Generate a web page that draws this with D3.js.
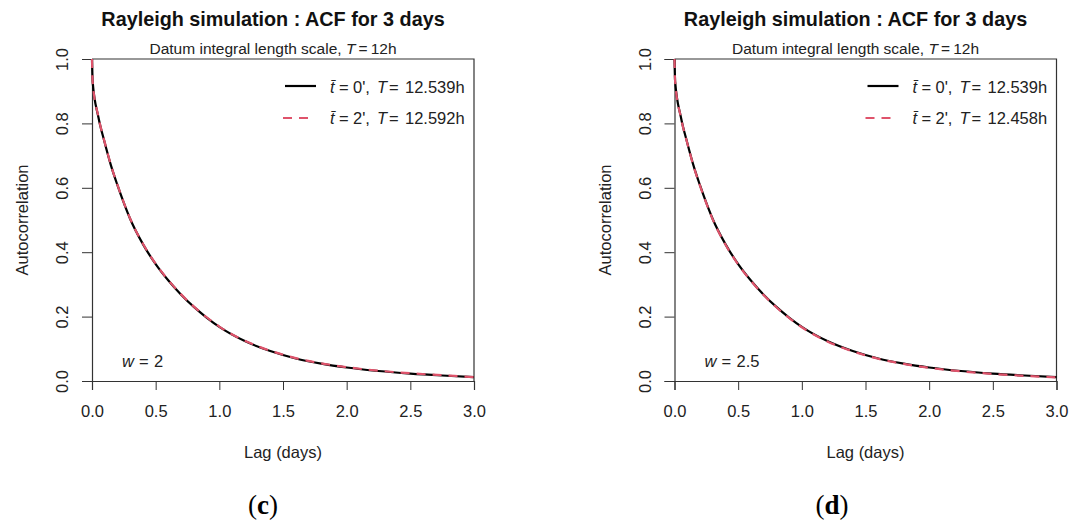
<!DOCTYPE html>
<html>
<head>
<meta charset="utf-8">
<script src="https://cdn.jsdelivr.net/npm/d3@7"></script>
<style>
  body { margin: 0; background: #fff; }
  svg { display: block; font-family: "Liberation Sans", Arial, sans-serif; }
  .axis path, .axis line { stroke: #333; }
  .axis text { font-family: "Liberation Sans", Arial, sans-serif; font-size: 16.5px; fill: #222; }
</style>
</head>
<body>
<svg id="chart" width="1082" height="528"></svg>
<script>
// lag in days and ACF values
const lags = [0, 0.005, 0.05, 0.1, 0.15, 0.2, 0.25, 0.3, 0.4, 0.5, 0.6, 0.7, 0.8, 0.9, 1.0,
              1.2, 1.4, 1.6, 1.8, 2.0, 2.25, 2.5, 2.75, 3.0];
const acfT0 = [1.0, 0.93, 0.82, 0.74, 0.668, 0.608, 0.553, 0.503, 0.425, 0.363, 0.312, 0.268, 0.23, 0.197, 0.168,
               0.124, 0.093, 0.07, 0.054, 0.042, 0.031, 0.023, 0.017, 0.012];
const acfC2 = [1.0, 0.93, 0.821, 0.741, 0.669, 0.609, 0.554, 0.504, 0.426, 0.364, 0.313, 0.269, 0.231, 0.198, 0.169,
               0.125, 0.094, 0.071, 0.055, 0.043, 0.032, 0.024, 0.018, 0.012];
const acfD2 = [1.0, 0.93, 0.819, 0.739, 0.667, 0.607, 0.552, 0.502, 0.424, 0.362, 0.311, 0.267, 0.229, 0.196, 0.167,
               0.123, 0.092, 0.069, 0.053, 0.041, 0.030, 0.022, 0.016, 0.011];

const xTicks = [0, 0.5, 1.0, 1.5, 2.0, 2.5, 3.0];
const yTicks = [0, 0.2, 0.4, 0.6, 0.8, 1.0];

const panels = [
  {offset: 0, w: "2", T2: "12.592h", second: acfC2, caption: "c", capX: 263},
  {offset: 582.5, w: "2.5", T2: "12.458h", second: acfD2, caption: "d", capX: 832}
];

const svg = d3.select("#chart");
const dims = {left: 92, top: 59, width: 382, height: 322};
const pink = "#DF536B";
const ink = "#222";

// plotmath-like legend label: t-bar = n', T = value
function legendLabel(g, y, tval, Tval) {
  const t = g.append("text").attr("y", y);
  t.append("tspan").attr("x", 238).attr("font-style", "italic").text("t\u0304");
  t.append("tspan").attr("x", 247).text("=");
  t.append("tspan").attr("x", 261).text(tval + "',");
  t.append("tspan").attr("x", 285).attr("font-style", "italic").text("T");
  t.append("tspan").attr("x", 297).text("=");
  t.append("tspan").attr("x", 313).text(Tval);
}

function drawPanel(p) {
  const g = svg.append("g").attr("transform", `translate(${dims.left + p.offset},${dims.top})`);
  const x = d3.scaleLinear().domain([0, 3]).range([0, dims.width]);
  const y = d3.scaleLinear().domain([0, 1]).range([dims.height, 0]);

  g.append("g").attr("class", "axis")
    .attr("transform", `translate(0,${dims.height})`)
    .call(d3.axisBottom(x).tickValues(xTicks).tickFormat(d3.format(".1f")).tickSize(9).tickPadding(15))
    .call(a => a.select(".domain").attr("stroke-width", 1.2));

  const ya = g.append("g").attr("class", "axis")
    .call(d3.axisLeft(y).tickValues(yTicks).tickFormat(d3.format(".1f")).tickSize(10))
    .call(a => a.select(".domain").attr("stroke-width", 1.2));
  ya.selectAll(".tick text")
    .attr("x", 0).attr("y", -24).attr("dy", 0)
    .attr("text-anchor", "middle")
    .attr("transform", "rotate(-90)");

  // box top and right
  g.append("path")
    .attr("d", `M0,0H${dims.width}V${dims.height}`)
    .attr("fill", "none").attr("stroke", "#333").attr("stroke-width", 1.2);

  const line = d3.line().x((d, i) => x(lags[i])).y(d => y(d)).curve(d3.curveMonotoneX);
  g.append("path").datum(acfT0).attr("d", line)
    .attr("fill", "none").attr("stroke", "#000").attr("stroke-width", 2.2);
  g.append("path").datum(p.second).attr("d", line)
    .attr("fill", "none").attr("stroke", pink).attr("stroke-width", 2.2)
    .attr("stroke-dasharray", "9,7");

  // legend
  const lg = g.append("g").attr("font-size", 16.5).attr("fill", ink);
  lg.append("line").attr("x1", 193).attr("x2", 224).attr("y1", 27).attr("y2", 27)
    .attr("stroke", "#000").attr("stroke-width", 2.2);
  lg.append("line").attr("x1", 191).attr("x2", 221).attr("y1", 59).attr("y2", 59)
    .attr("stroke", pink).attr("stroke-width", 2.2).attr("stroke-dasharray", "9,7");
  legendLabel(lg, 34, "0", "12.539h");
  legendLabel(lg, 65, "2", p.T2);

  // w label
  const wl = g.append("text").attr("y", 308).attr("font-size", 16.5).attr("fill", ink);
  wl.append("tspan").attr("x", 30).attr("font-style", "italic").text("w");
  wl.append("tspan").attr("x", 47).text("=");
  wl.append("tspan").attr("x", 62).text(p.w);

  // titles
  const cx = dims.left + p.offset + dims.width / 2 - 10;
  svg.append("text").attr("x", cx).attr("y", 26)
    .attr("text-anchor", "middle").attr("font-weight", "bold").attr("font-size", 19.8).attr("fill", "#111")
    .text("Rayleigh simulation : ACF for 3 days");
  const st = svg.append("text").attr("x", cx).attr("y", 54)
    .attr("text-anchor", "middle").attr("font-size", 15.5).attr("fill", ink);
  st.append("tspan").text("Datum integral length scale, ");
  st.append("tspan").attr("font-style", "italic").text("T");
  st.append("tspan").text("\u2009=\u200912h");

  // axis titles
  svg.append("text").attr("x", dims.left + p.offset + dims.width / 2).attr("y", 458)
    .attr("text-anchor", "middle").attr("font-size", 16.5).attr("fill", ink).text("Lag (days)");
  svg.append("text")
    .attr("transform", `translate(${dims.left + p.offset - 64},${dims.top + dims.height / 2}) rotate(-90)`)
    .attr("text-anchor", "middle").attr("font-size", 16.5).attr("fill", ink).text("Autocorrelation");

  // caption
  const cap = svg.append("text").attr("x", p.capX).attr("y", 514)
    .attr("text-anchor", "middle").attr("font-family", "'Liberation Serif', serif")
    .attr("font-size", 27).attr("fill", "#000");
  cap.append("tspan").text("(");
  cap.append("tspan").attr("font-weight", "bold").text(p.caption);
  cap.append("tspan").text(")");
}

panels.forEach(drawPanel);
</script>
</body>
</html>
